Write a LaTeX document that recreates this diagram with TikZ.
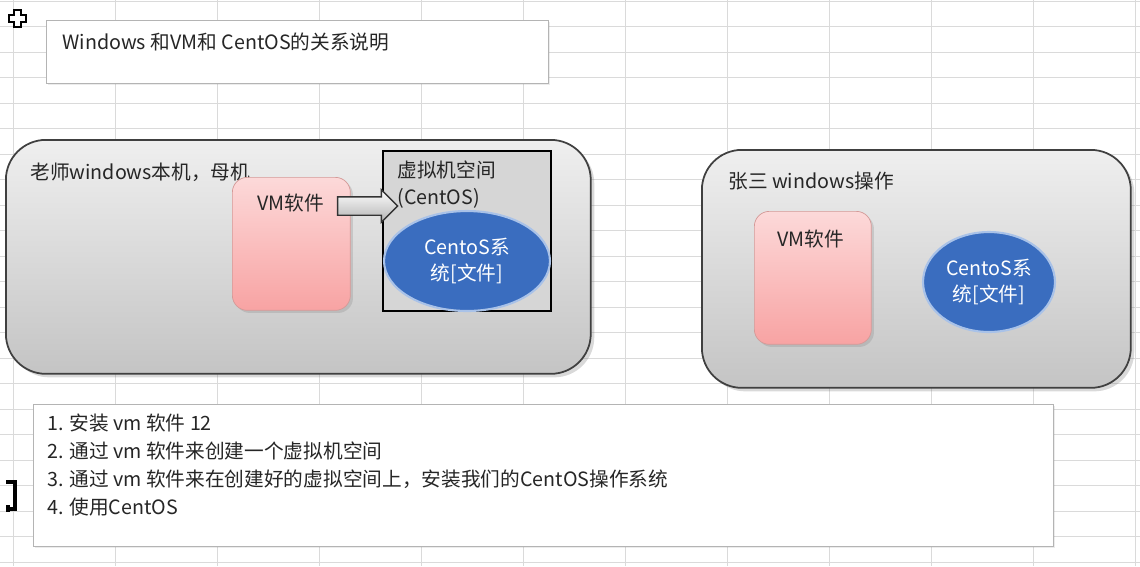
\documentclass[tikz,border=0pt]{standalone}
\usepackage{fontspec}
\setmainfont{Noto Sans CJK SC}
\usetikzlibrary{shapes.geometric,shapes.arrows,shadows}
\definecolor{gridgray}{HTML}{DADADA}
\definecolor{boxtop}{HTML}{EFEFEF}
\definecolor{boxbot}{HTML}{C4C4C4}
\definecolor{pinktop}{HTML}{FCD9D9}
\definecolor{pinkbot}{HTML}{F8A3A3}
\definecolor{pinkline}{HTML}{D49A98}
\definecolor{osblue}{HTML}{3A6DBF}
\definecolor{osglow}{HTML}{A9C2E8}
\definecolor{noteline}{HTML}{B4B4B4}

\begin{document}
\begin{tikzpicture}[x=0.02cm,y=-0.02cm,
	gridline/.style={gridgray,line width=0.5pt},
	txt/.style={font=\fontsize{11.2}{15.5}\selectfont,inner sep=0pt,anchor=west,text=black!85},
	notebox/.style={draw=noteline,fill=white,anchor=north west,inner sep=0pt,
		drop shadow={shadow xshift=1pt,shadow yshift=-1pt,opacity=0.15}},
	hostbox/.style={draw=black!75,line width=1pt,rounded corners=0.8cm,anchor=north west,
		top color=boxtop,bottom color=boxbot,inner sep=0pt,
		drop shadow={shadow xshift=2pt,shadow yshift=-2pt,opacity=0.3}},
	vmbox/.style={draw=pinkline,rounded corners=0.3cm,anchor=north west,
		top color=pinktop,bottom color=pinkbot,inner sep=0pt,
		drop shadow={shadow xshift=1.5pt,shadow yshift=-1.5pt,opacity=0.25}},
	spacebox/.style={draw=black,line width=1pt,fill=black!16,anchor=north west,inner sep=0pt},
	osdisk/.style={ellipse,draw=osglow,line width=1.2pt,fill=osblue,inner sep=0pt,
		text=white,align=center,font=\fontsize{11.2}{15}\selectfont},
	blockarrow/.style={single arrow,draw=black!80,line width=0.8pt,top color=white,bottom color=black!30,
		inner xsep=0pt,inner ysep=0.17cm,minimum height=1.2cm,single arrow head extend=0.14cm}]
	\useasboundingbox (0,0) rectangle (1140,566);
	% 表格网格
	\foreach \i in {0,...,11}
		\draw[gridline] (13+102*\i,0) -- (13+102*\i,566);
	\foreach \j in {0,...,22}
		\draw[gridline] (0,1+25.5*\j) -- (1140,1+25.5*\j);
	% 光标
	\draw[fill=white,line width=1.6pt] (14,10) -- (21,10) -- (21,15) -- (26,15) -- (26,22) -- (21,22)
		-- (21,27) -- (14,27) -- (14,22) -- (9,22) -- (9,15) -- (14,15) -- cycle;
	% 标题
	\node[notebox,minimum width=10.04cm,minimum height=1.26cm] (title) at (46,20) {};
	\node[txt] (titletext) at (62,42) {Windows 和VM和 CentOS的关系说明};
	% 老师的母机
	\node[hostbox,minimum width=11.7cm,minimum height=4.68cm] (host) at (5,139) {};
	\node[txt] (hostlbl) at (30,172) {老师windows本机，母机};
	\node[vmbox,minimum width=2.36cm,minimum height=2.66cm] (vm) at (232,177) {};
	\node[txt,anchor=center] (vmlbl) at (291,203) {VM软件};
	\node[spacebox,minimum width=3.36cm,minimum height=3.2cm] (space) at (382,150) {};
	\node[txt,align=left,anchor=north west] (spacelbl) at (397,160) {虚拟机空间\\(CentOS)};
	\node[osdisk,minimum width=3.32cm,minimum height=2cm] (os) at (467,261) {CentoS系\\统[文件]};
	% 箭头
	\node[blockarrow] (push) at (363,206) {};
	% 张三的电脑
	\node[hostbox,minimum width=8.58cm,minimum height=4.76cm] (pc) at (701,149) {};
	\node[txt] (pclbl) at (728,181) {张三 windows操作};
	\node[vmbox,minimum width=2.34cm,minimum height=2.66cm] (vm2) at (754,211) {};
	\node[txt,anchor=center] (vm2lbl) at (811,239) {VM软件};
	\node[osdisk,minimum width=2.64cm,minimum height=2cm] (os2) at (989,282) {CentoS系\\统[文件]};
	% 步骤说明
	\node[notebox,minimum width=20.4cm,minimum height=2.84cm] (steps) at (33,404) {};
	\node[txt,align=left,anchor=north west,font=\fontsize{11.2}{15.8}\selectfont] (stepstext) at (47,414)
		{1. 安装 vm 软件 12\\2. 通过 vm 软件来创建一个虚拟机空间\\3. 通过 vm 软件来在创建好的虚拟空间上，安装我们的CentOS操作系统\\4. 使用CentOS};
	% 选区标记
	\draw[line width=2pt] (6,482) -- (15,482) -- (15,509) -- (9,509);
	\fill (6,505) rectangle (10,512);
\end{tikzpicture}
\end{document}
